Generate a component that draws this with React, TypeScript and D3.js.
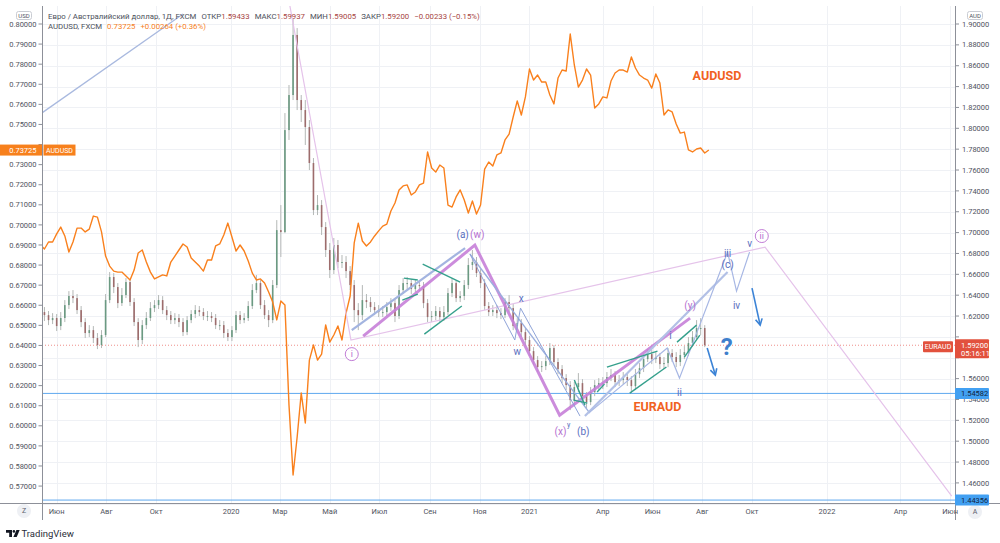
import React from 'react';
import * as d3 from 'd3';

// ---------- DATA ----------
const seriesStart = '2019-05-12';
const stepDays = 5;

const audusd = [
  0.6900,0.6880,0.6915,0.6915,0.6955,0.6989,0.6945,0.6865,0.6915,0.6984,
  0.6984,0.6965,0.6979,0.7044,0.7039,0.6965,0.6845,0.6795,0.6770,0.6765,
  0.6765,0.6746,0.6726,0.6775,0.6860,0.6875,0.6815,0.6765,0.6731,0.6741,
  0.6751,0.6746,0.6815,0.6845,0.6875,0.6905,0.6890,0.6835,0.6815,0.6795,
  0.6770,0.6825,0.6825,0.6895,0.6905,0.6950,0.7009,0.6940,0.6870,0.6900,
  0.6870,0.6820,0.6760,0.6726,0.6731,0.6711,0.6666,0.6616,0.6527,0.6621,
  0.6601,0.6103,0.5755,0.5944,0.6163,0.6014,0.6327,0.6402,0.6327,0.6357,
  0.6502,0.6417,0.6452,0.6497,0.6427,0.6561,0.6646,0.6910,0.7009,0.6920,
  0.6895,0.6915,0.6945,0.6970,0.6994,0.7004,0.7069,0.7109,0.7174,0.7194,
  0.7199,0.7149,0.7164,0.7199,0.7208,0.7363,0.7283,0.7263,0.7298,0.7283,
  0.7099,0.7089,0.7139,0.7174,0.7124,0.7059,0.7119,0.7054,0.7099,0.7278,
  0.7313,0.7293,0.7348,0.7358,0.7423,0.7452,0.7537,0.7617,0.7547,0.7637,
  0.7776,0.7721,0.7746,0.7711,0.7711,0.7647,0.7602,0.7731,0.7771,0.7766,
  0.7950,0.7796,0.7686,0.7721,0.7776,0.7746,0.7582,0.7602,0.7637,0.7632,
  0.7716,0.7756,0.7771,0.7771,0.7761,0.7836,0.7781,0.7746,0.7731,0.7721,
  0.7681,0.7751,0.7706,0.7547,0.7572,0.7562,0.7502,0.7457,0.7462,0.7373,
  0.7363,0.7378,0.7383,0.7358,0.7373,
];

const euraudFirstOpen = 1.6257;
const euraudClose = [
  1.6238,1.6209,1.6161,1.6181,1.6104,1.6181,1.6305,1.6392,1.6372,1.6257,
  1.6142,1.6037,1.6065,1.5989,1.5922,1.6018,1.6353,1.6574,1.6478,1.6324,
  1.6401,1.6526,1.6334,1.6142,1.5970,1.6113,1.6181,1.6276,1.6305,1.6353,
  1.6257,1.6209,1.6161,1.6181,1.6142,1.6046,1.6161,1.6219,1.6257,1.6238,
  1.6200,1.6200,1.6181,1.6113,1.6113,1.6037,1.5998,1.6065,1.6209,1.6161,
  1.6181,1.6296,1.6449,1.6516,1.6305,1.6209,1.6161,1.6497,1.7024,1.7005,
  1.7983,1.8319,1.8895,1.8271,1.8175,1.8012,1.7667,1.7216,1.7264,1.7053,
  1.6833,1.6641,1.6881,1.6718,1.6718,1.6631,1.6497,1.6257,1.6209,1.6353,
  1.6334,1.6286,1.6257,1.6238,1.6238,1.6286,1.6324,1.6200,1.6449,1.6516,
  1.6516,1.6459,1.6497,1.6487,1.6324,1.6190,1.6200,1.6248,1.6190,1.6238,
  1.6420,1.6516,1.6372,1.6392,1.6497,1.6689,1.6718,1.6612,1.6516,1.6296,
  1.6238,1.6257,1.6228,1.6209,1.6334,1.6276,1.6104,1.6133,1.6046,1.5970,
  1.5864,1.5778,1.5711,1.5720,1.5768,1.5893,1.5759,1.5691,1.5605,1.5538,
  1.5394,1.5519,1.5557,1.5433,1.5375,1.5471,1.5538,1.5557,1.5557,1.5615,
  1.5634,1.5567,1.5586,1.5615,1.5586,1.5528,1.5643,1.5701,1.5787,1.5835,
  1.5787,1.5807,1.5739,1.5749,1.5845,1.5807,1.5759,1.5826,1.5854,1.5941,
  1.5998,1.6085,1.6085,1.5920,
];
const euraudHigh = [
  1.6315,1.6286,1.6248,1.6228,1.6219,1.6238,1.6353,1.6439,1.6449,1.6411,
  1.6296,1.6180,1.6113,1.6104,1.6037,1.6065,1.6411,1.6622,1.6612,1.6516,
  1.6468,1.6564,1.6554,1.6372,1.6180,1.6161,1.6238,1.6334,1.6353,1.6401,
  1.6391,1.6296,1.6248,1.6228,1.6219,1.6180,1.6200,1.6257,1.6305,1.6296,
  1.6276,1.6248,1.6238,1.6219,1.6161,1.6152,1.6075,1.6104,1.6248,1.6248,
  1.6228,1.6343,1.6506,1.6593,1.6545,1.6353,1.6257,1.6545,1.7120,1.7264,
  1.8146,1.8415,1.9057,1.8961,1.8319,1.8271,1.8079,1.7715,1.7360,1.7312,
  1.7101,1.6900,1.6948,1.6929,1.6785,1.6775,1.6679,1.6545,1.6324,1.6497,
  1.6411,1.6382,1.6334,1.6305,1.6296,1.6334,1.6372,1.6363,1.6497,1.6564,
  1.6574,1.6554,1.6545,1.6545,1.6526,1.6363,1.6248,1.6296,1.6286,1.6296,
  1.6468,1.6564,1.6545,1.6439,1.6545,1.6756,1.6833,1.6766,1.6650,1.6554,
  1.6334,1.6305,1.6305,1.6276,1.6372,1.6401,1.6315,1.6180,1.6171,1.6085,
  1.6008,1.5902,1.5816,1.5768,1.5816,1.5941,1.5921,1.5797,1.5730,1.5643,
  1.5576,1.5567,1.5653,1.5595,1.5471,1.5519,1.5586,1.5605,1.5615,1.5663,
  1.5692,1.5672,1.5634,1.5663,1.5653,1.5624,1.5692,1.5749,1.5835,1.5883,
  1.5874,1.5854,1.5845,1.5807,1.5893,1.5883,1.5854,1.5883,1.5912,1.5998,
  1.6056,1.6161,1.6180,1.6113,
];
const euraudLow = [
  1.6180,1.6152,1.6113,1.6123,1.6056,1.6065,1.6142,1.6267,1.6324,1.6219,
  1.6094,1.5989,1.5998,1.5941,1.5883,1.5893,1.5998,1.6324,1.6420,1.6276,
  1.6296,1.6372,1.6296,1.6104,1.5902,1.5931,1.6075,1.6152,1.6238,1.6267,
  1.6219,1.6161,1.6123,1.6123,1.6094,1.6008,1.6017,1.6132,1.6180,1.6200,
  1.6161,1.6152,1.6142,1.6075,1.6065,1.5989,1.5960,1.5960,1.6037,1.6123,
  1.6132,1.6152,1.6267,1.6420,1.6267,1.6171,1.6094,1.6132,1.6468,1.6766,
  1.6995,1.7888,1.8271,1.8175,1.8060,1.7840,1.7600,1.7168,1.7168,1.6977,
  1.6766,1.6564,1.6603,1.6660,1.6660,1.6564,1.6449,1.6142,1.6065,1.6161,
  1.6276,1.6238,1.6209,1.6190,1.6190,1.6200,1.6248,1.6142,1.6171,1.6411,
  1.6459,1.6411,1.6430,1.6439,1.6276,1.6142,1.6142,1.6161,1.6142,1.6152,
  1.6209,1.6382,1.6334,1.6334,1.6353,1.6459,1.6641,1.6574,1.6468,1.6257,
  1.6200,1.6200,1.6180,1.6171,1.6180,1.6238,1.6065,1.6065,1.5998,1.5921,
  1.5816,1.5730,1.5663,1.5663,1.5682,1.5730,1.5720,1.5643,1.5557,1.5490,
  1.5298,1.5336,1.5471,1.5375,1.5317,1.5346,1.5432,1.5490,1.5500,1.5519,
  1.5576,1.5519,1.5529,1.5548,1.5529,1.5461,1.5490,1.5605,1.5663,1.5759,
  1.5739,1.5749,1.5692,1.5692,1.5710,1.5759,1.5710,1.5720,1.5787,1.5816,
  1.5902,1.5970,1.6017,1.5902,
];

const timeTickDates = ['2019-06-01','2019-08-01','2019-10-01','2020-01-01','2020-03-01','2020-05-01','2020-07-01','2020-09-01','2020-11-01','2021-01-01','2021-04-01','2021-06-01','2021-08-01','2021-10-01','2022-01-01','2022-04-01','2022-06-01'];
const timeTickLabels = ['Июн','Авг','Окт','2020','Мар','Май','Июл','Сен','Ноя','2021','Апр','Июн','Авг','Окт','2022','Апр','Июн'];

const rightTicks = [1.90,1.88,1.86,1.84,1.82,1.80,1.78,1.76,1.74,1.72,1.70,1.68,1.66,1.64,1.62,1.60,1.58,1.56,1.54,1.52,1.50,1.48,1.46,1.44];
const leftTicks = [0.80,0.79,0.78,0.77,0.76,0.75,0.74,0.73,0.72,0.71,0.70,0.69,0.68,0.67,0.66,0.65,0.64,0.63,0.62,0.61,0.60,0.59,0.58,0.57];

const euraudLast = 1.592;
const audusdLast = 0.73725;
const levelA = 1.54582;
const levelB = 1.44356;

// annotation drawings (date, EURAUD price)
const topLeftLine = [{d:'2019-04-29',p:1.8066},{d:'2019-11-03',p:1.9096}];
const lavenderLine = [{d:'2020-03-12',p:1.9220},{d:'2020-05-27',p:1.5970},{d:'2021-10-17',p:1.6861},{d:'2022-06-03',p:1.4473}];
const purpleThick = [{d:'2020-06-11',p:1.6008},{d:'2020-10-26',p:1.6880},{d:'2021-02-07',p:1.5250},{d:'2021-07-17',p:1.6180}];
const blueChannel = [{d:'2020-05-28',p:1.6065},{d:'2020-10-14',p:1.6852}];
const blueAB = [{d:'2020-10-20',p:1.6794},{d:'2021-03-16',p:1.5269}];
const blueWXY = [{d:'2020-10-20',p:1.6794},{d:'2020-12-14',p:1.5970},{d:'2020-12-21',p:1.6276},{d:'2021-03-04',p:1.5241}];
const blueBC = [{d:'2021-03-10',p:1.5241},{d:'2021-09-01',p:1.6622}];
const blueImpulse = [{d:'2021-03-16',p:1.5279},{d:'2021-06-19',p:1.5893},{d:'2021-07-04',p:1.5605},{d:'2021-09-01',p:1.6813},{d:'2021-09-12',p:1.6439},{d:'2021-09-28',p:1.6813}];
const tealSegments = [
  [{d:'2020-07-31',p:1.6564},{d:'2020-08-17',p:1.6545}],
  [{d:'2020-07-29',p:1.6353},{d:'2020-08-17',p:1.6411}],
  [{d:'2020-08-23',p:1.6698},{d:'2020-10-08',p:1.6526}],
  [{d:'2020-08-25',p:1.6027},{d:'2020-10-10',p:1.6296}],
  [{d:'2021-02-25',p:1.5586},{d:'2021-03-10',p:1.5346}],
  [{d:'2021-02-24',p:1.5394},{d:'2021-03-13',p:1.5365}],
  [{d:'2021-03-25',p:1.5471},{d:'2021-04-03',p:1.5547}],
  [{d:'2021-04-06',p:1.5711},{d:'2021-06-07',p:1.5864}],
  [{d:'2021-05-04',p:1.5461},{d:'2021-06-18',p:1.5711}],
  [{d:'2021-07-01',p:1.5950},{d:'2021-07-25',p:1.6113}],
  [{d:'2021-07-10',p:1.5806},{d:'2021-07-29',p:1.6017}],
];
const arrows = [
  [{d:'2021-08-07',p:1.5893},{d:'2021-08-17',p:1.5634}],
  [{d:'2021-10-01',p:1.6468},{d:'2021-10-11',p:1.6113}],
];
const waveLabels = [
  {d:'2020-10-11',p:1.6986,t:'(a)',k:'b'},
  {d:'2020-10-29',p:1.6986,t:'(w)',k:'p'},
  {d:'2020-12-22',p:1.6372,t:'x',k:'b'},
  {d:'2020-12-17',p:1.5864,t:'w',k:'b'},
  {d:'2021-02-08',p:1.5097,t:'(x)',k:'p'},
  {d:'2021-02-18',p:1.5164,t:'y',k:'s'},
  {d:'2021-03-08',p:1.5097,t:'(b)',k:'b'},
  {d:'2021-07-17',p:1.6305,t:'(y)',k:'p'},
  {d:'2021-06-23',p:1.6017,t:'i',k:'b'},
  {d:'2021-07-04',p:1.5471,t:'ii',k:'b'},
  {d:'2021-09-01',p:1.6804,t:'iii',k:'b'},
  {d:'2021-09-01',p:1.6698,t:'(c)',k:'b'},
  {d:'2021-09-12',p:1.6305,t:'iv',k:'b'},
  {d:'2021-09-28',p:1.6900,t:'v',k:'b'},
];
const circledLabels = [{d:'2020-05-28',p:1.5835,t:'i'},{d:'2021-10-13',p:1.6967,t:'ii'}];
const questionMark = {d:'2021-08-31',p:1.5903};
const euraudTextPos = {d:'2021-06-07',p:1.5327};
const audusdTextPos = {d:'2021-08-19',v:0.7741};

// ---------- CHART ----------
const FONT = "Roboto, 'Noto Sans', 'DejaVu Sans', sans-serif";
const AXIS_TXT = '#50535e';
const BLUE_LBL = '#5a6fc0';
const PURPLE_LBL = '#b56fcf';

export default function App() {
  const parse = d3.utcParse('%Y-%m-%d');
  const L = 42, R = 955, T = 6, B = 503;
  const x = d3.scaleUtc().domain([parse('2019-05-14'), parse('2022-06-07')]).range([L, R]);
  const yR = d3.scaleLinear().domain([1.44, 1.90]).range([503.78, 24]);
  const yL = d3.scaleLinear().domain([0.57, 0.80]).range([486.07, 24]);
  const start = parse(seriesStart);
  const dateAt = (i) => d3.utcDay.offset(start, i * stepDays);

  const candles = euraudClose.map((c, i) => ({
    date: dateAt(i),
    o: i === 0 ? euraudFirstOpen : euraudClose[i - 1],
    h: euraudHigh[i], l: euraudLow[i], c,
  }));

  const audPath = d3.line().x((_, i) => x(dateAt(i))).y((v) => yL(v))(audusd);
  const ann = d3.line().x((p) => x(parse(p.d))).y((p) => yR(p.p));
  const P = (p) => [x(parse(p.d)), yR(p.p)];

  const arrowHead = (seg) => {
    const [x1, y1] = P(seg[0]);
    const [x2, y2] = P(seg[1]);
    const a = Math.atan2(y2 - y1, x2 - x1);
    const len = 7;
    const h1 = [x2 - len * Math.cos(a - 0.5), y2 - len * Math.sin(a - 0.5)];
    const h2 = [x2 - len * Math.cos(a + 0.5), y2 - len * Math.sin(a + 0.5)];
    return `M${h1[0]},${h1[1]}L${x2},${y2}L${h2[0]},${h2[1]}`;
  };

  const fmt5 = d3.format('.5f');
  const hiddenRight = (v) => Math.abs(v - euraudLast) < 0.015 || Math.abs(v - levelB) < 0.01;
  const hiddenLeft = (v) => Math.abs(v - audusdLast) < 0.004;

  return (
    <svg width={1000} height={543} style={{ position: 'absolute', left: 0, top: 0, background: '#fff' }} fontFamily={FONT}>
      <rect x={0} y={0} width={1000} height={543} fill="#ffffff" />
      <defs>
        <clipPath id="plotClip"><rect x={L} y={T} width={R - L} height={B - T} /></clipPath>
      </defs>

      {/* grid */}
      <g shapeRendering="crispEdges">
        {rightTicks.map((v) => (
          <line key={'gh' + v} x1={L} x2={R} y1={Math.round(yR(v)) + 0.5} y2={Math.round(yR(v)) + 0.5} stroke="#eff1f5" />
        ))}
        {timeTickDates.map((d) => (
          <line key={'gv' + d} x1={Math.round(x(parse(d))) + 0.5} x2={Math.round(x(parse(d))) + 0.5} y1={T} y2={B} stroke="#eff1f5" />
        ))}
      </g>

      <g clipPath="url(#plotClip)">
        {/* horizontal levels */}
        <line x1={L} x2={R} y1={yR(levelA)} y2={yR(levelA)} stroke="#5fa9ef" strokeWidth={1} />
        <line x1={L} x2={R} y1={yR(levelB)} y2={yR(levelB)} stroke="#5fa9ef" strokeWidth={1} />
        <line x1={L} x2={R} y1={yR(euraudLast)} y2={yR(euraudLast)} stroke="#ef8f8a" strokeWidth={1} strokeDasharray="1 2" />

        {/* EURAUD candles */}
        {candles.map((k, i) => {
          const cx = x(k.date);
          const up = k.c >= k.o;
          const hi = Math.max(k.h, k.o, k.c);
          const lo = Math.min(k.l, k.o, k.c);
          const yTop = yR(Math.max(k.o, k.c));
          const yBot = yR(Math.min(k.o, k.c));
          return (
            <g key={'c' + i}>
              <line x1={cx} x2={cx} y1={yR(hi)} y2={yR(lo)} stroke="#b4b8b6" strokeWidth={1} />
              <rect x={cx - 0.8} y={yTop} width={1.6} height={Math.max(1, yBot - yTop)} fill={up ? '#6b9a82' : '#9d6c6c'} />
            </g>
          );
        })}

        {/* AUDUSD line */}
        <path d={audPath} fill="none" stroke="#f9801d" strokeWidth={1.4} strokeLinejoin="round" />

        {/* annotations */}
        <path d={ann(topLeftLine)} fill="none" stroke="#a9b9df" strokeWidth={1.3} />
        <path d={ann(lavenderLine)} fill="none" stroke="#e5c3ea" strokeWidth={1.2} />
        <path d={ann(blueChannel)} fill="none" stroke="#a3b4e0" strokeWidth={2.2} />
        <path d={ann(purpleThick)} fill="none" stroke="#c77fd8" strokeWidth={3} strokeLinejoin="miter" opacity={0.9} />
        <path d={ann(blueAB)} fill="none" stroke="#9aaedd" strokeWidth={1.4} />
        <path d={ann(blueWXY)} fill="none" stroke="#8ea3d8" strokeWidth={1} />
        <path d={ann(blueBC)} fill="none" stroke="#b2c0e6" strokeWidth={2.2} />
        <path d={ann(blueImpulse)} fill="none" stroke="#a7b7e4" strokeWidth={1.2} />
        {tealSegments.map((s, i) => (
          <path key={'t' + i} d={ann(s)} fill="none" stroke="#35a08c" strokeWidth={1.4} />
        ))}
        {arrows.map((s, i) => (
          <g key={'a' + i}>
            <path d={ann(s)} fill="none" stroke="#3b83d6" strokeWidth={1.6} />
            <path d={arrowHead(s)} fill="none" stroke="#3b83d6" strokeWidth={1.6} />
          </g>
        ))}

        {/* labels */}
        {waveLabels.map((w, i) => {
          const [lx, ly] = P(w);
          const col = w.k === 'p' ? PURPLE_LBL : BLUE_LBL;
          return (
            <text key={'w' + i} x={lx} y={ly} dy="0.35em" textAnchor="middle" fontSize={w.k === 's' ? 7 : 10} fill={col}>{w.t}</text>
          );
        })}
        {circledLabels.map((c, i) => {
          const [cx, cy] = P(c);
          return (
            <g key={'ci' + i}>
              <circle cx={cx} cy={cy} r={6.5} fill="#fff" stroke="#c17dd6" strokeWidth={1} />
              <text x={cx} y={cy} dy="0.35em" textAnchor="middle" fontSize={9} fill="#b56fcf">{c.t}</text>
            </g>
          );
        })}
        <text x={P(questionMark)[0]} y={P(questionMark)[1]} dy="0.35em" textAnchor="middle" fontSize={24} fontWeight={700} fill="#3f7fcc">?</text>
        <text x={P(euraudTextPos)[0]} y={P(euraudTextPos)[1]} dy="0.35em" textAnchor="middle" fontSize={12.5} fontWeight={700} fill="#f1621f">EURAUD</text>
        <text x={x(parse(audusdTextPos.d))} y={yL(audusdTextPos.v)} dy="0.35em" textAnchor="middle" fontSize={12.5} fontWeight={700} fill="#f1621f">AUDUSD</text>
      </g>

      {/* axes lines */}
      <g shapeRendering="crispEdges">
        <line x1={42.5} x2={42.5} y1={T} y2={520} stroke="#8d9099" />
        <line x1={955.5} x2={955.5} y1={T} y2={520} stroke="#8d9099" />
        <line x1={0} x2={1000} y1={503.5} y2={503.5} stroke="#8d9099" />
      </g>

      {/* left axis */}
      {leftTicks.map((v) => (
        <g key={'lt' + v}>
          <line x1={38.5} x2={42} y1={yL(v)} y2={yL(v)} stroke="#8d9099" />
          {!hiddenLeft(v) && (
            <text x={36.5} y={yL(v)} dy="0.35em" textAnchor="end" fontSize={7.5} fill={AXIS_TXT}>{fmt5(v)}</text>
          )}
        </g>
      ))}
      {/* right axis */}
      {rightTicks.map((v) => (
        <g key={'rt' + v}>
          <line x1={956} x2={959} y1={yR(v)} y2={yR(v)} stroke="#8d9099" />
          {!hiddenRight(v) && (
            <text x={962} y={yR(v)} dy="0.35em" textAnchor="start" fontSize={7.5} fill={AXIS_TXT}>{fmt5(v)}</text>
          )}
        </g>
      ))}

      {/* currency boxes */}
      <rect x={16.5} y={11.5} width={15} height={8} rx={2} fill="#fff" stroke="#c9ccd3" />
      <text x={24} y={15.6} dy="0.35em" textAnchor="middle" fontSize={6} fill={AXIS_TXT}>USD</text>
      <rect x={967.5} y={11.5} width={15} height={8} rx={2} fill="#fff" stroke="#c9ccd3" />
      <text x={975} y={15.6} dy="0.35em" textAnchor="middle" fontSize={6} fill={AXIS_TXT}>AUD</text>

      {/* time axis */}
      {timeTickDates.map((d, i) => (
        <text key={'tx' + d} x={x(parse(d))} y={511.5} dy="0.35em" textAnchor="middle" fontSize={7.5} fill={AXIS_TXT}>{timeTickLabels[i]}</text>
      ))}
      <circle cx={24} cy={511} r={7} fill="#eef0f4" />
      <text x={24} y={511} dy="0.35em" textAnchor="middle" fontSize={7} fill="#5d606b">Z</text>
      <circle cx={975} cy={512} r={7} fill="#eef0f4" />
      <text x={975} y={512} dy="0.35em" textAnchor="middle" fontSize={7} fill="#5d606b">A</text>

      {/* price tags */}
      <rect x={0} y={yL(audusdLast) - 5.5} width={42} height={11} fill="#f7801c" />
      <text x={36.5} y={yL(audusdLast)} dy="0.35em" textAnchor="end" fontSize={7.5} fill="#fff">{fmt5(audusdLast)}</text>
      <rect x={43.5} y={yL(audusdLast) - 5.5} width={32} height={11} fill="#f7801c" />
      <text x={59.5} y={yL(audusdLast)} dy="0.35em" textAnchor="middle" fontSize={7} fill="#fff">AUDUSD</text>

      <rect x={923} y={yR(euraudLast) - 4} width={30} height={11} rx={1} fill="#e2513d" />
      <text x={938} y={yR(euraudLast) + 1.5} dy="0.35em" textAnchor="middle" fontSize={7} fill="#fff">EURAUD</text>
      <rect x={955} y={yR(euraudLast) - 6} width={34} height={19} rx={1} fill="#e2513d" />
      <text x={961} y={yR(euraudLast) + 0.5} dy="0.35em" fontSize={7.5} fill="#fff">{fmt5(euraudLast)}</text>
      <text x={961} y={yR(euraudLast) + 8.5} dy="0.35em" fontSize={7.5} fill="#fff">05:16:11</text>

      <rect x={955} y={yR(levelA) - 5.5} width={34} height={11} rx={1} fill="#42a0f2" />
      <text x={961} y={yR(levelA)} dy="0.35em" fontSize={7.5} fill="#13233a">{fmt5(levelA)}</text>
      <rect x={955} y={yR(levelB) - 5.5} width={34} height={11} rx={1} fill="#42a0f2" />
      <text x={961} y={yR(levelB)} dy="0.35em" fontSize={7.5} fill="#13233a">{fmt5(levelB)}</text>

      {/* header legend */}
      <text x={48} y={18.5} fontSize={7.8} fill="#4b4f5a">
        Евро / Австралийский доллар, 1Д, FXCM
        <tspan dx={5}>ОТКР</tspan><tspan fill="#a8453f">1.59433</tspan>
        <tspan dx={5}>МАКС</tspan><tspan fill="#a8453f">1.59937</tspan>
        <tspan dx={5}>МИН</tspan><tspan fill="#a8453f">1.59005</tspan>
        <tspan dx={5}>ЗАКР</tspan><tspan fill="#a8453f">1.59200</tspan>
        <tspan dx={5} fill="#a8453f">−0.00233 (−0.15%)</tspan>
      </text>
      <text x={48} y={28.5} fontSize={7.8} fill="#4b4f5a">
        AUDUSD, FXCM
        <tspan dx={5} fill="#f7801c">0.73725</tspan>
        <tspan dx={5} fill="#f7801c">+0.00264 (+0.36%)</tspan>
      </text>

      {/* TradingView logo */}
      <path d="M6,530 h6 v7 h-2.8 v-4.3 h-3.2 z" fill="#131722" />
      <circle cx={13.9} cy={531.4} r={1.3} fill="#131722" />
      <path d="M16.4,530 h3.3 l-3,7 h-3.3 z" fill="#131722" />
      <text x={21.5} y={537} fontSize={9.5} fill="#2a2e39">TradingView</text>
    </svg>
  );
}
